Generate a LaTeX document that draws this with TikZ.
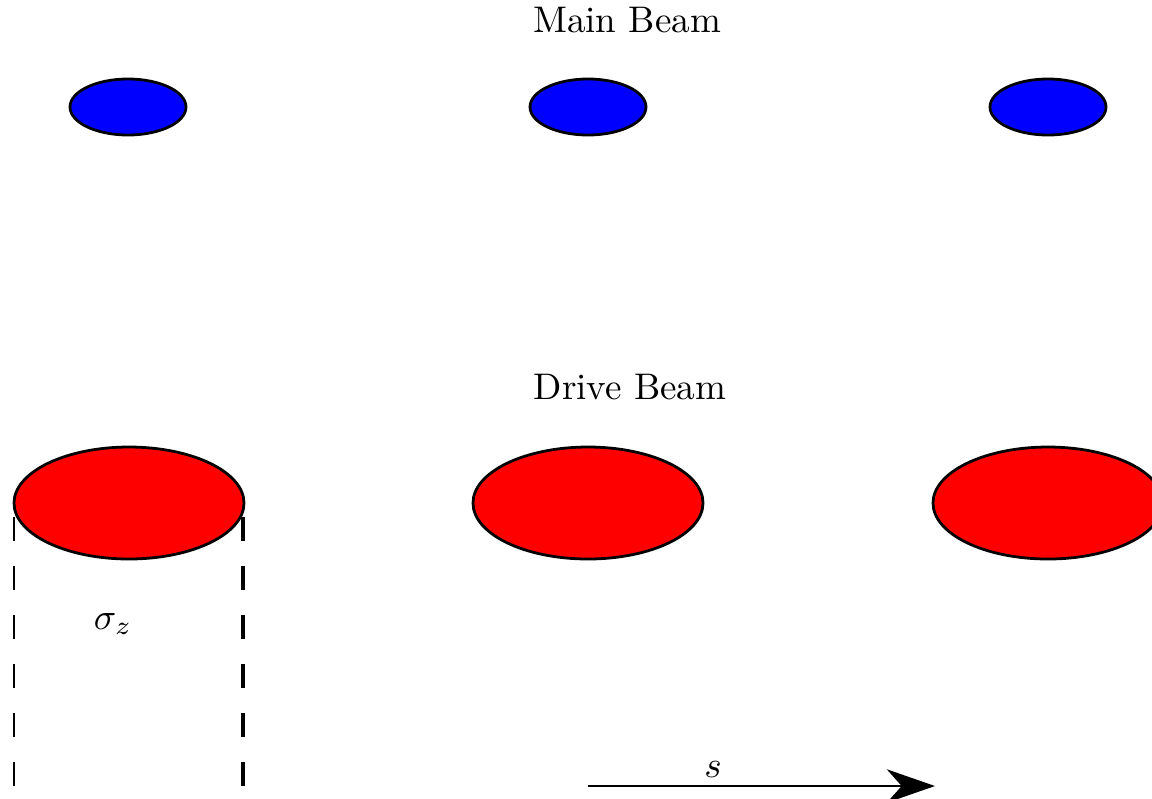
\documentclass[tikz,border=0pt]{standalone}
\usetikzlibrary{shapes.geometric,arrows.meta}
\begin{document}
\begin{tikzpicture}[x=0.27pt,y=-0.27pt,
  mainbunch/.style={ellipse,draw=black,line width=0.75pt,fill=blue,minimum width=116*0.27pt,minimum height=56*0.27pt,inner sep=0pt},
  drivebunch/.style={ellipse,draw=black,line width=0.75pt,fill=red,minimum width=230*0.27pt,minimum height=112*0.27pt,inner sep=0pt},
  guide/.style={dash pattern=on 24*0.27pt off 25*0.27pt},
  lbl/.style={inner sep=0pt}]
\useasboundingbox (0,0) rectangle (1152,798);
\clip (0,0) rectangle (1152,798);
\node[lbl] (mainlbl) at (627,20) {Main Beam};
\node[mainbunch] (m1) at (128,107) {};
\node[mainbunch] (m2) at (588,107) {};
\node[mainbunch] (m3) at (1048,107) {};
\node[lbl] (drivelbl) at (630,387) {Drive Beam};
\node[drivebunch] (d1) at (129,503) {};
\node[drivebunch] (d2) at (588,503) {};
\node[drivebunch] (d3) at (1048,503) {};
\coordinate (la) at (14,517);
\coordinate (lb) at (14,790);
\coordinate (ra) at (243,517);
\coordinate (rb) at (243,790);
\draw[guide,line width=0.45pt] (la) -- (lb);
\draw[guide,line width=0.9pt] (ra) -- (rb);
\node[lbl] (sig) at (113,624) {$\sigma_z$};
\coordinate (sa) at (588,786);
\coordinate (sb) at (935,786);
\draw[line width=0.75pt,-{Stealth[length=13pt,width=9pt,inset=4pt]}] (sa) -- (sb);
\node[lbl] (slbl) at (713,770) {$s$};
\end{tikzpicture}
\end{document}
